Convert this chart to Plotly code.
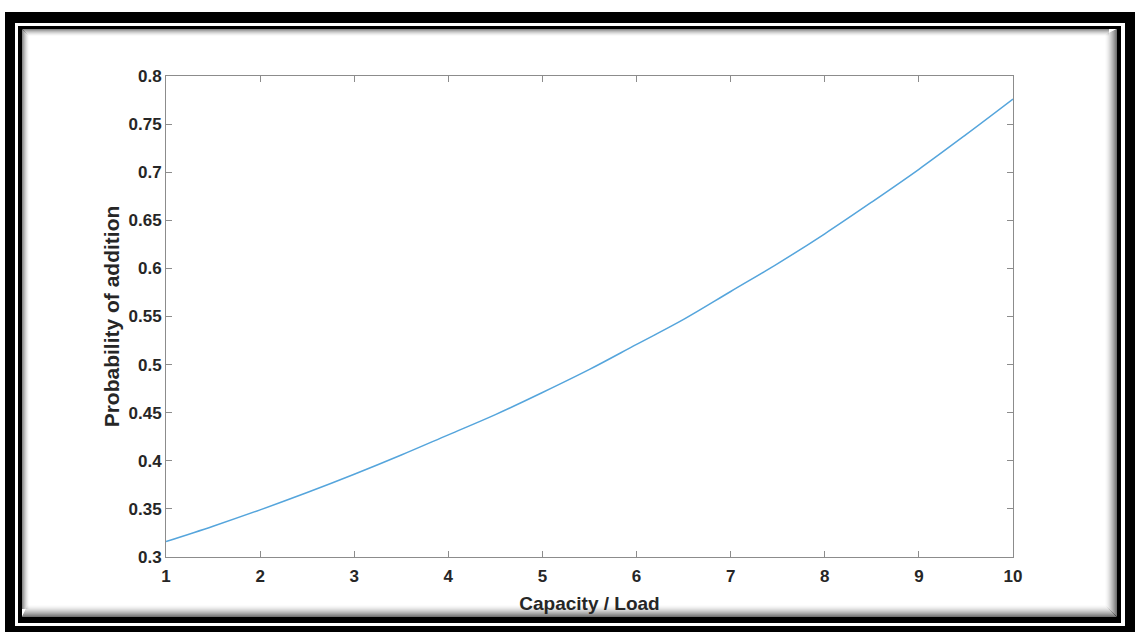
import plotly.graph_objects as go

# Data
capacity_load = [1, 1.5, 2, 2.5, 3, 3.5, 4, 4.5, 5, 5.5, 6, 6.5, 7, 7.5, 8, 8.5, 9, 9.5, 10]
prob_addition = [0.316, 0.332, 0.349, 0.367, 0.386, 0.406, 0.427, 0.448, 0.471, 0.495,
                 0.521, 0.547, 0.576, 0.605, 0.636, 0.669, 0.703, 0.739, 0.776]
x_ticks = [1, 2, 3, 4, 5, 6, 7, 8, 9, 10]
y_ticks = [0.3, 0.35, 0.4, 0.45, 0.5, 0.55, 0.6, 0.65, 0.7, 0.75, 0.8]
y_tick_labels = ["0.3", "0.35", "0.4", "0.45", "0.5", "0.55", "0.6", "0.65", "0.7", "0.75", "0.8"]

W, H = 1139, 632
L, R, T, B = 166, 1013, 76, 557  # plot area in pixels


def px(x):
    return (x - L) / (R - L)


def py(y):
    return (B - y) / (B - T)


fig = go.Figure()
fig.add_trace(go.Scatter(
    x=capacity_load, y=prob_addition, mode="lines",
    line=dict(color="#55a5dc", width=1.5, shape="spline"),
    showlegend=False, hoverinfo="skip"))

shapes = []


def rect(x0, y0, x1, y1, fill=None, line=None, lw=0):
    d = dict(type="rect", xref="paper", yref="paper", layer="below",
             x0=px(x0), x1=px(x1), y0=py(y1), y1=py(y0))
    d["fillcolor"] = fill if fill else "rgba(0,0,0,0)"
    d["line"] = dict(color=line or "rgba(0,0,0,0)", width=lw)
    shapes.append(d)


# Frame: thick black, white gap, thin black, inner shadow
rect(5, 12, 1135, 640, fill="black")
rect(15, 23, 1125, 626, fill="white")
rect(18, 26, 1121, 623, fill="black")
rect(22, 29, 1117, 617, fill="white")

# inner shadow (bottom/right heavier than top/left)
n = 12
for i in range(n):
    a = 0.55 * (1 - i / n) ** 1.6
    col = f"rgba(0,0,0,{a:.3f})"
    shapes.append(dict(type="line", xref="paper", yref="paper", layer="below",
                       x0=px(22 + i * 0.5), x1=px(1117 - i), y0=py(616.5 - i), y1=py(616.5 - i),
                       line=dict(color=col, width=1)))
    shapes.append(dict(type="line", xref="paper", yref="paper", layer="below",
                       x0=px(1116.5 - i), x1=px(1116.5 - i), y0=py(29 + i * 0.5), y1=py(617 - i),
                       line=dict(color=col, width=1)))
m = 7
for i in range(m):
    a = 0.45 * (1 - i / m) ** 1.6
    col = f"rgba(0,0,0,{a:.3f})"
    shapes.append(dict(type="line", xref="paper", yref="paper", layer="below",
                       x0=px(22 + i), x1=px(1117 - 8), y0=py(29.5 + i), y1=py(29.5 + i),
                       line=dict(color=col, width=1)))
    shapes.append(dict(type="line", xref="paper", yref="paper", layer="below",
                       x0=px(22.5 + i), x1=px(22.5 + i), y0=py(29 + i), y1=py(617 - 8),
                       line=dict(color=col, width=1)))

tick_font = dict(family="Liberation Sans, Arial", size=17, color="#262626", weight="bold")
axis_common = dict(
    showline=True, linecolor="#8c8c8c", linewidth=1, mirror="ticks",
    ticks="inside", ticklen=6, tickcolor="#8c8c8c", tickwidth=1,
    showgrid=False, zeroline=False, tickfont=tick_font,
)

fig.update_layout(
    width=W, height=H,
    margin=dict(l=L, r=W - R, t=T, b=H - B),
    paper_bgcolor="white", plot_bgcolor="white",
    shapes=shapes,
    xaxis=dict(range=[1, 10], tickvals=x_ticks, ticklabelstandoff=4, **axis_common,
               title=dict(text="Capacity / Load", standoff=11,
                          font=dict(family="Liberation Sans, Arial", size=19, color="#262626", weight="bold"))),
    yaxis=dict(range=[0.3, 0.8], tickvals=y_ticks, ticktext=y_tick_labels, **axis_common,
               title=dict(text="Probability of addition", standoff=3,
                          font=dict(family="Liberation Sans, Arial", size=21, color="#262626", weight="bold"))),
)

fig.write_html("out.html")
